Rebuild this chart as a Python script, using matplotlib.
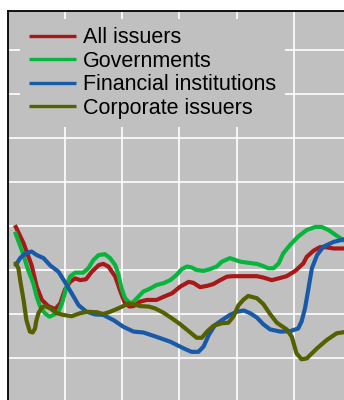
import matplotlib.pyplot as plt

plt.rcParams['font.family'] = ['Liberation Sans', 'DejaVu Sans']

# Series traced on a common scale: x in grid intervals, y in grid intervals
all_x = [0.13, 0.28, 0.42, 0.51, 0.60, 0.71, 0.83, 0.92, 1.00, 1.09, 1.18, 1.27, 1.37,
         1.47, 1.59, 1.67, 1.76, 1.88, 1.96, 2.05, 2.13, 2.20, 2.31, 2.43, 2.60, 2.72,
         2.87, 3.01, 3.16, 3.24, 3.36, 3.48, 3.59, 3.71, 3.83, 3.94, 4.35, 4.46, 4.61,
         4.73, 4.87, 5.02, 5.16, 5.22, 5.34, 5.45, 5.54, 5.69, 5.88]
all_y = [4.02, 3.61, 3.11, 2.62, 2.32, 2.18, 2.11, 2.24, 2.55, 2.73, 2.81, 2.77, 2.79,
         2.96, 3.11, 3.14, 3.08, 2.85, 2.55, 2.24, 2.17, 2.18, 2.28, 2.32, 2.32, 2.39,
         2.47, 2.62, 2.73, 2.71, 2.61, 2.64, 2.68, 2.77, 2.85, 2.86, 2.86, 2.83, 2.77,
         2.81, 2.86, 2.98, 3.15, 3.30, 3.44, 3.52, 3.52, 3.49, 3.49]

gov_x = [0.13, 0.25, 0.36, 0.45, 0.51, 0.57, 0.65, 0.73, 0.80, 0.89, 0.95, 1.03, 1.09,
         1.18, 1.32, 1.41, 1.50, 1.59, 1.70, 1.79, 1.88, 1.93, 1.99, 2.05, 2.14, 2.20,
         2.28, 2.37, 2.49, 2.60, 2.72, 2.84, 2.95, 3.04, 3.13, 3.21, 3.30, 3.42, 3.53,
         3.65, 3.74, 3.88, 3.97, 4.06, 4.17, 4.35, 4.46, 4.55, 4.64, 4.73, 4.81, 4.93,
         5.07, 5.22, 5.37, 5.48, 5.60, 5.72, 5.88]
gov_y = [3.87, 3.45, 3.00, 2.70, 2.39, 2.17, 2.02, 1.94, 1.98, 2.05, 2.24, 2.62, 2.85,
         2.94, 2.94, 3.04, 3.23, 3.34, 3.36, 3.27, 3.11, 2.92, 2.58, 2.36, 2.24, 2.28,
         2.39, 2.51, 2.58, 2.66, 2.70, 2.77, 2.89, 3.02, 3.08, 3.06, 3.00, 2.98, 3.02,
         3.08, 3.19, 3.27, 3.23, 3.19, 3.17, 3.14, 3.09, 3.04, 3.04, 3.15, 3.38, 3.57,
         3.76, 3.91, 3.98, 3.98, 3.91, 3.80, 3.66]

fin_x = [0.13, 0.22, 0.31, 0.42, 0.51, 0.63, 0.74, 0.89, 1.00, 1.12, 1.24, 1.38, 1.53,
         1.67, 1.85, 2.02, 2.20, 2.37, 2.60, 2.84, 3.07, 3.21, 3.33, 3.42, 3.51, 3.62,
         3.74, 3.88, 4.00, 4.12, 4.23, 4.35, 4.46, 4.58, 4.76, 4.93, 5.07, 5.13, 5.19,
         5.25, 5.31, 5.40, 5.51, 5.69, 5.88]
fin_y = [3.08, 3.27, 3.38, 3.42, 3.34, 3.27, 3.11, 2.96, 2.73, 2.47, 2.20, 2.05, 1.99,
         1.98, 1.86, 1.71, 1.60, 1.58, 1.48, 1.37, 1.22, 1.14, 1.14, 1.26, 1.52, 1.75,
         1.86, 1.98, 2.05, 2.08, 2.02, 1.92, 1.77, 1.65, 1.60, 1.61, 1.67, 1.83, 2.13,
         2.58, 3.04, 3.34, 3.53, 3.64, 3.70]

corp_x = [0.13, 0.19, 0.23, 0.28, 0.33, 0.39, 0.44, 0.48, 0.50, 0.54, 0.60, 0.65, 0.74,
          0.86, 0.97, 1.12, 1.27, 1.41, 1.56, 1.67, 1.79, 1.90, 2.02, 2.11, 2.20, 2.31,
          2.46, 2.57, 2.72, 2.87, 3.01, 3.16, 3.30, 3.39, 3.48, 3.59, 3.74, 3.85, 3.94,
          4.03, 4.12, 4.20, 4.35, 4.46, 4.58, 4.70, 4.87, 4.96, 5.04, 5.13, 5.22, 5.40,
          5.57, 5.74, 5.88]
corp_y = [3.19, 3.04, 2.70, 2.32, 1.86, 1.60, 1.58, 1.67, 1.83, 2.02, 2.15, 2.18, 2.13,
          2.02, 1.98, 1.95, 2.02, 2.05, 2.04, 2.00, 2.05, 2.11, 2.18, 2.24, 2.22, 2.18,
          2.17, 2.13, 2.03, 1.90, 1.77, 1.61, 1.46, 1.46, 1.60, 1.73, 1.79, 1.80, 1.94,
          2.20, 2.33, 2.41, 2.36, 2.23, 2.00, 1.80, 1.65, 1.48, 1.11, 0.97, 0.99, 1.22,
          1.41, 1.56, 1.59]

labels = ['All issuers', 'Governments', 'Financial institutions', 'Corporate issuers']
colors = ['#A81818', '#08B53C', '#185AA8', '#556000']

fig = plt.figure(figsize=(3.44, 4.0), dpi=100)
ax = fig.add_axes([7.5 / 344, 0.0, 1 - 7.5 / 344, 1 - 10.5 / 400])
ax.set_facecolor('#C0C0C0')

series = [(all_x, all_y), (gov_x, gov_y), (fin_x, fin_y), (corp_x, corp_y)]
for (xs, ys), lab, col in zip(series, labels, colors):
    ax.plot(xs, ys, color=col, linewidth=3.0, label=lab, solid_capstyle='butt', zorder=3)

ax.set_xlim(0, 5.87)
ax.set_ylim(0.045, 8.90)
ax.set_xticks([1, 2, 3, 4, 5])
ax.set_yticks([1, 2, 3, 4, 5, 6, 7, 8])
ax.grid(True, color='white', linewidth=1.2)
ax.set_axisbelow(True)
ax.tick_params(length=0, labelleft=False, labelbottom=False)
for side in ['right', 'bottom']:
    ax.spines[side].set_visible(False)
for side in ['left', 'top']:
    ax.spines[side].set_linewidth(1.3)
    ax.spines[side].set_color('black')

leg = ax.legend(loc='upper left', bbox_to_anchor=(20 / 344, 1 - 18.5 / 400),
                bbox_transform=fig.transFigure, fontsize=15.5, frameon=True,
                facecolor='#C0C0C0', edgecolor='none', framealpha=1.0, fancybox=False,
                borderpad=0.4, borderaxespad=0, labelspacing=0.12,
                handlelength=2.2, handletextpad=0.33)
for line in leg.get_lines():
    line.set_linewidth(2.4)

plt.savefig('out.png', dpi=100)
